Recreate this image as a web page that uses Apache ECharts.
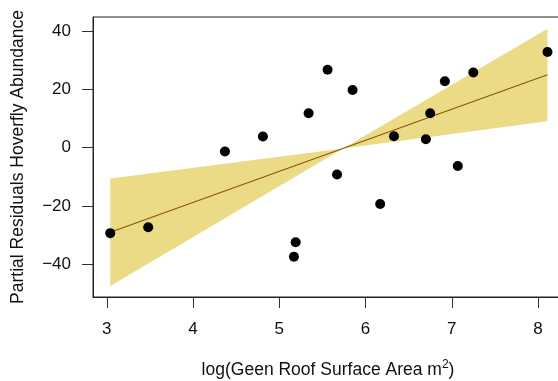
<!DOCTYPE html>
<html>
<head>
<meta charset="utf-8">
<script src="https://cdn.jsdelivr.net/npm/echarts@6/dist/echarts.min.js"></script>
<style>html,body{margin:0;padding:0;background:#fff}#c{width:558px;height:381px}</style>
</head>
<body>
<div id="c"></div>
<script>
// Data
var pointX = [3.04, 3.48, 4.37, 4.81, 5.17, 5.19, 5.34, 5.56, 5.67, 5.85, 6.17, 6.33, 6.70, 6.75, 6.92, 7.07, 7.25, 8.11];
var pointY = [-29.3, -27.3, -1.3, 3.8, -37.4, -32.4, 11.8, 26.7, -9.2, 19.8, -19.3, 3.9, 2.9, 11.8, 22.8, -6.3, 25.8, 32.8];
var fitX = [3.04, 8.11];
var fitY = [-29.0, 25.0];
var bandX = [3.04, 5.74, 8.11];
var bandUpper = [-10.6, -0.3, 40.8];
var bandLower = [-47.4, -0.3, 9.1];
var xTicks = [3, 4, 5, 6, 7, 8];
var yTicks = [-40, -20, 0, 20, 40];

var FONT = '"Liberation Sans", Arial, Helvetica, sans-serif';

var chart = echarts.init(document.getElementById('c'), null, {renderer: 'canvas'});

var scatterData = pointX.map(function (x, i) { return [x, pointY[i]]; });
var lineData = fitX.map(function (x, i) { return [x, fitY[i]]; });
var bandPoly = [];
for (var i = 0; i < bandX.length; i++) bandPoly.push([bandX[i], bandUpper[i]]);
for (var j = bandX.length - 1; j >= 0; j--) bandPoly.push([bandX[j], bandLower[j]]);

chart.setOption({
  animation: false,
  backgroundColor: '#fff',
  grid: {
    left: 93, right: -5, top: 17, bottom: 84,
    outerBoundsMode: 'none', containLabel: false,
    show: true, borderColor: '#222', borderWidth: 1, backgroundColor: 'transparent'
  },
  xAxis: {
    type: 'value', min: 2.84, max: 8.29,
    name: 'log(Geen Roof Surface Area m{sup|2})',
    nameLocation: 'middle', nameGap: 62,
    nameTextStyle: {
      fontFamily: FONT, fontSize: 17.5, color: '#111',
      rich: { sup: { fontFamily: FONT, fontSize: 12, color: '#111', verticalAlign: 'bottom', padding: [0, 0, 11, 0] } }
    },
    axisLine: { show: true, onZero: false, lineStyle: { color: '#222', width: 1 } },
    axisTick: { show: true, inside: false, length: 11, customValues: xTicks, lineStyle: { color: '#333' } },
    axisLabel: { customValues: xTicks, margin: 24, fontFamily: FONT, fontSize: 17, color: '#111' },
    splitLine: { show: false }
  },
  yAxis: {
    type: 'value', min: -51.2, max: 44.8,
    name: 'Partial Residuals Hoverfly Abundance',
    nameLocation: 'middle', nameGap: 66, nameRotate: 90,
    nameTextStyle: { fontFamily: FONT, fontSize: 17.5, color: '#111' },
    axisLine: { show: true, onZero: false, lineStyle: { color: '#222', width: 1 } },
    axisTick: { show: true, inside: false, length: 11, customValues: yTicks, lineStyle: { color: '#333' } },
    axisLabel: {
      customValues: yTicks, margin: 22, fontFamily: FONT, fontSize: 17, color: '#111',
      formatter: function (v) { return v < 0 ? '\u2212' + Math.abs(v) : String(v); }
    },
    splitLine: { show: false }
  },
  series: [
    {
      type: 'custom',
      coordinateSystem: 'cartesian2d',
      data: [0],
      silent: true,
      z: 1,
      renderItem: function (params, api) {
        var pts = bandPoly.map(function (p) { return api.coord(p); });
        return {
          type: 'polygon',
          shape: { points: pts },
          style: { fill: '#EBDB87', stroke: null }
        };
      }
    },
    {
      type: 'line',
      data: lineData,
      showSymbol: false,
      z: 2,
      lineStyle: { color: '#8B5A00', width: 1.3 }
    },
    {
      type: 'scatter',
      data: scatterData,
      symbol: 'circle',
      symbolSize: 10,
      z: 3,
      itemStyle: { color: '#000', opacity: 1 }
    }
  ]
});
</script>
</body>
</html>
